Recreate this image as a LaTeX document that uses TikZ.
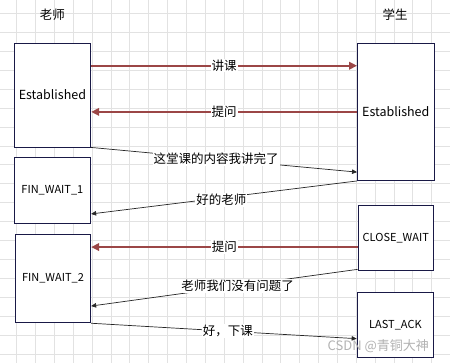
\documentclass[tikz,border=0pt]{standalone}
\usepackage{fontspec}
\setmainfont{Noto Sans CJK SC}
\usetikzlibrary{arrows.meta, positioning, calc}
\definecolor{BoxNavy}{RGB}{25, 25, 70}
\definecolor{TalkRed}{RGB}{155, 70, 70}
\definecolor{GridGrey}{RGB}{226, 226, 226}

\begin{document}
\begin{tikzpicture}[
        x = 1pt, y = -1pt,
        state/.style = {draw = BoxNavy, fill = white, line width = 0.9pt, minimum width = 76.6pt, inner sep = 2pt, font = \fontsize{11}{13}\selectfont},
        big/.style = {font = \fontsize{12.5}{14}\selectfont},
        lab/.style = {fill = white, text = black, inner sep = 1pt, font = \fontsize{12.5}{14}\selectfont},
        talk/.style = {-{Triangle[length = 8pt, width = 7.5pt]}, line width = 2pt, TalkRed},
        msg/.style = {-{Triangle[length = 5pt, width = 4.5pt]}, line width = 0.7pt, black!85},
        grid line/.style = {GridGrey, line width = 0.8pt}
    ]
        \useasboundingbox[fill = white] (0, 0) rectangle (450, 363);

        % grid
        \foreach \i in {0, ..., 22}
            \draw[grid line] ({16.6 + 18.87*\i}, 0) -- ++(0, 363);
        \foreach \j in {0, ..., 18}
            \draw[grid line] (0, {13.3 + 18.95*\j}) -- ++(450, 0);

        \node[big] (teacher) at (52.4, 15) {老师};
        \node[big] (student) at (395, 15) {学生};

        \node[state, big, minimum height = 104pt] (tEst) at (52.4, 95) {Established};
        \node[state, minimum height = 66pt, below = 9.3pt of tEst] (tFin1) {FIN\_WAIT\_1};
        \node[state, minimum height = 88.7pt, minimum width = 75.4pt, below = 10pt of tFin1, xshift = 0.6pt] (tFin2) {FIN\_WAIT\_2};

        \node[state, big, minimum height = 137.2pt] (sEst) at (395.8, 111.9) {Established};
        \node[state, minimum height = 65.7pt, minimum width = 75.4pt, below = 23.8pt of sEst] (sClose) {CLOSE\_WAIT};
        \node[state, minimum height = 65.7pt, below = 20.3pt of sClose, xshift = -0.4pt] (sLast) {LAST\_ACK};

        \draw[talk] ($(tEst.north east)!0.221!(tEst.south east)$) coordinate (a) -- node[lab] {讲课} (a -| sEst.west);
        \draw[talk] (sEst.west) -- node[lab] {提问} (sEst.west -| tEst.east);
        \draw[msg] (tEst.south east) -- node[lab, pos = 0.47] {这堂课的内容我讲完了} ($(sEst.north west)!0.936!(sEst.south west)$);
        \draw[msg] (sEst.south west) -- node[lab, pos = 0.51, yshift = -2pt] {好的老师} ($(tFin1.north east)!0.855!(tFin1.south east)$);
        \draw[talk] ($(sClose.north west)!0.635!(sClose.south west)$) coordinate (b) -- node[lab] {提问} (b -| tFin2.east);
        \draw[msg] ($(sClose.north west)!0.97!(sClose.south west)$) -- node[lab, pos = 0.45] {老师我们没有问题了} ($(tFin2.north east)!0.808!(tFin2.south east)$);
        \draw[msg] (tFin2.south east) -- node[lab, pos = 0.515] {好，下课} ($(sLast.north west)!0.706!(sLast.south west)$);

        \node[text = black!30, font = \fontsize{13}{15}\selectfont] (mark) at (378.3, 345.7) {CSDN @青铜大神};
    \end{tikzpicture}
\end{document}
